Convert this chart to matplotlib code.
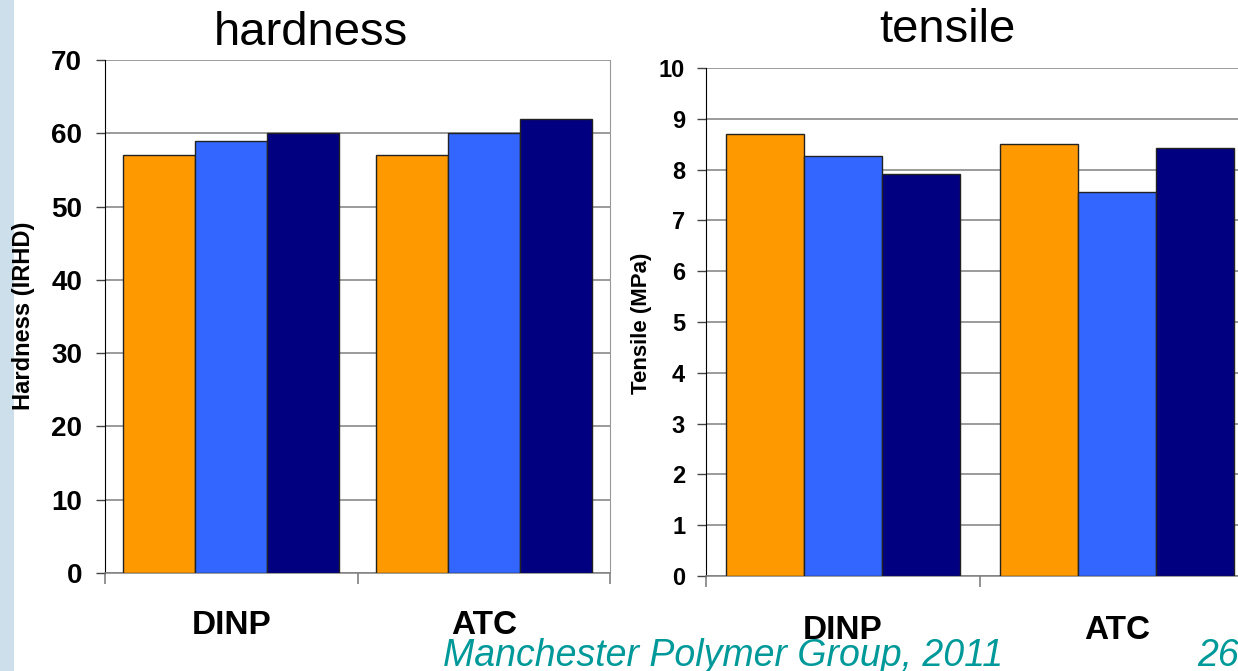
import matplotlib
matplotlib.use("Agg")
import matplotlib.pyplot as plt
from matplotlib.patches import Rectangle

plt.rcParams['font.family'] = ['Liberation Sans', 'DejaVu Sans']

# data
categories = ['DINP', 'ATC']
hardness_a = [57, 57]
hardness_b = [59, 60]
hardness_c = [60, 62]
tensile_a = [8.70, 8.50]
tensile_b = [8.27, 7.56]
tensile_c = [7.92, 8.42]
hardness_ticks = [0, 10, 20, 30, 40, 50, 60, 70]
tensile_ticks = [0, 1, 2, 3, 4, 5, 6, 7, 8, 9, 10]

colours = ['#FF9900', '#3366FF', '#000080']
W, H = 1238, 671


def px_axes(fig, x0, y0, x1, y1):
    # axes from pixel box (top-left origin)
    return fig.add_axes([x0 / W, (H - y1) / H, (x1 - x0) / W, (y1 - y0) / H])


def grouped_bars(ax, series, ticks, tick_size, ypad, xpad):
    width = 0.285
    x = range(len(categories))
    for i, vals in enumerate(series):
        ax.bar([p + (i - 1) * width for p in x], vals, width,
               color=colours[i], edgecolor='#222222', linewidth=1.0, zorder=3)
    ax.set_xlim(-0.5, len(categories) - 0.5)
    ax.set_ylim(ticks[0], ticks[-1])
    ax.set_yticks(ticks)
    ax.set_yticklabels([str(t) for t in ticks], fontsize=tick_size, fontweight='bold')
    ax.yaxis.grid(True, color='#808080', linewidth=1.1, zorder=0)
    ax.set_axisbelow(True)
    ax.tick_params(axis='y', direction='out', length=6.5, width=1,
                   color='#444444', pad=ypad)
    ax.set_xticks(list(x))
    ax.set_xticklabels(categories, fontsize=24, fontweight='bold')
    ax.tick_params(axis='x', which='major', length=0, pad=xpad)
    ax.set_xticks([-0.5, 0.5, len(categories) - 0.5], minor=True)
    ax.tick_params(axis='x', which='minor', direction='out', length=8,
                   width=1.2, color='#808080')
    ax.spines['top'].set_visible(False)
    ax.spines['right'].set_color('#999999')
    ax.spines['left'].set_color('black')
    ax.spines['bottom'].set_color('#808080')
    ax.spines['bottom'].set_linewidth(1.1)


fig = plt.figure(figsize=(W / 100, H / 100), dpi=100)
fig.patch.set_facecolor('white')
fig.patches.append(Rectangle((0, 0), 14 / W, 1, transform=fig.transFigure,
                             facecolor='#cddfea', edgecolor='none', zorder=0))

ax1 = px_axes(fig, 105, 60, 610, 573)
grouped_bars(ax1, [hardness_a, hardness_b, hardness_c], hardness_ticks, 20, 10, 27)

ax2 = px_axes(fig, 706, 68, 1254, 576)
grouped_bars(ax2, [tensile_a, tensile_b, tensile_c], tensile_ticks, 17, 8.5, 28)

fig.text(311 / W, (H - 45) / H, 'hardness', fontsize=34, ha='center', va='baseline')
fig.text(947 / W, (H - 42) / H, 'tensile', fontsize=34, ha='center', va='baseline')

fig.text(24 / W, (H - 316) / H, 'Hardness (IRHD)', fontsize=17, fontweight='bold',
         rotation=90, ha='center', va='center')
fig.text(642 / W, (H - 323) / H, 'Tensile (MPa)', fontsize=16, fontweight='bold',
         rotation=90, ha='center', va='center')

fig.text(443 / W, (H - 666) / H, 'Manchester Polymer Group, 2011', fontsize=27,
         style='italic', color='#009999', ha='left', va='baseline')
fig.text(1197 / W, (H - 666) / H, '26', fontsize=27,
         style='italic', color='#009999', ha='left', va='baseline')

fig.savefig('out.png', dpi=100)
